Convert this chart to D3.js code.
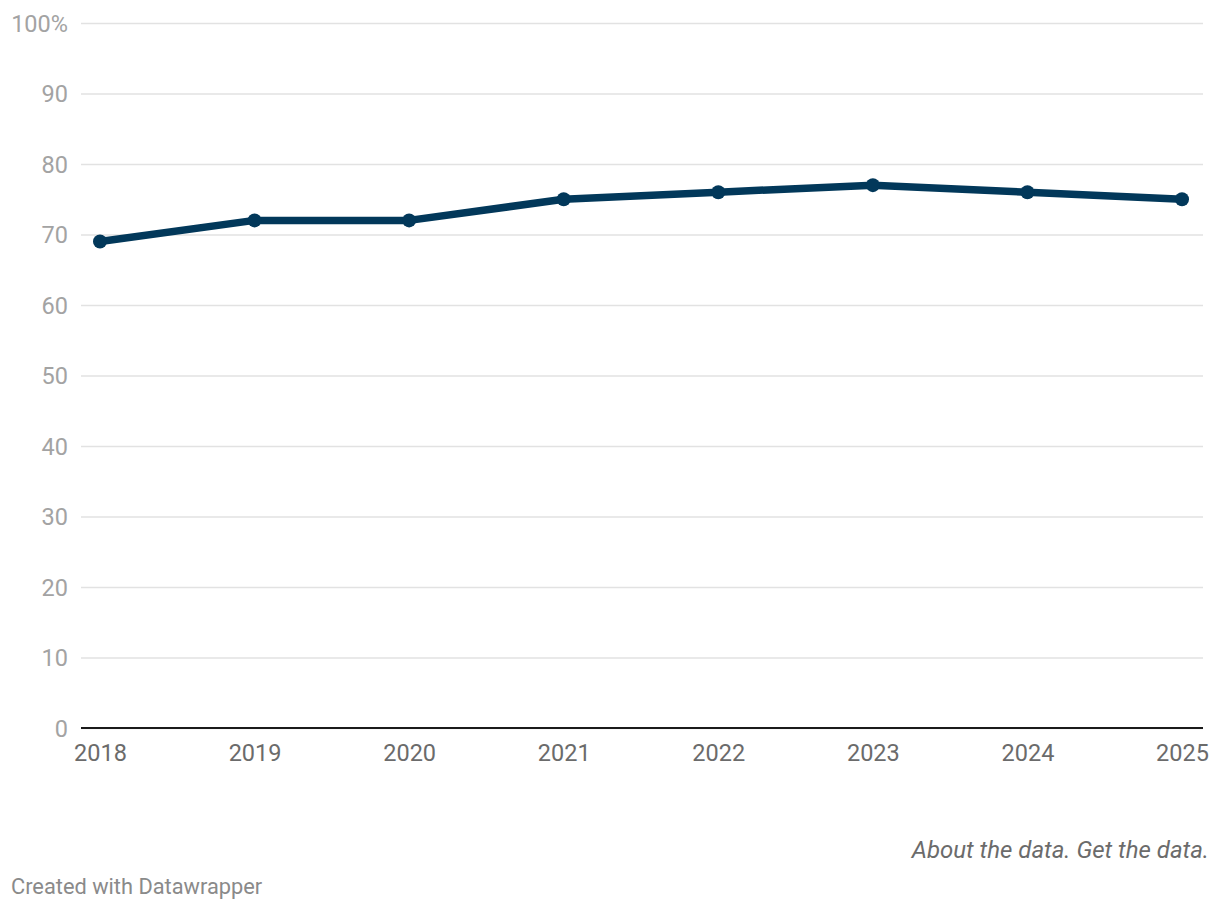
<!DOCTYPE html>
<html>
<head>
<meta charset="utf-8">
<script src="https://cdn.jsdelivr.net/npm/d3@7"></script>
<style>
  body { margin: 0; background: #fff; font-family: Roboto, sans-serif; }
</style>
</head>
<body>
<div id="chart"></div>
<script>
// data
const years = ["2018", "2019", "2020", "2021", "2022", "2023", "2024", "2025"];
const values = [69, 72, 72, 75, 76, 77, 76, 75];
const yTicks = [0, 10, 20, 30, 40, 50, 60, 70, 80, 90, 100];

const width = 1220, height = 910;

const svg = d3.select("#chart").append("svg")
    .attr("width", width)
    .attr("height", height);

// scales
const x = d3.scalePoint()
    .domain(years)
    .range([100, 1182]);

const y = d3.scaleLinear()
    .domain([0, 100])
    .range([728, 23]);

// gridlines + y labels
const yAxis = svg.append("g")
    .attr("transform", "translate(81,0)")
    .call(d3.axisLeft(y)
        .tickValues(yTicks)
        .tickSize(-(1203 - 81))
        .tickPadding(13)
        .tickFormat(d => d === 100 ? "100%" : d));

yAxis.select(".domain").remove();
yAxis.selectAll(".tick line").attr("stroke", "#e2e2e2").attr("stroke-width", 1.5);
yAxis.selectAll(".tick text")
    .attr("fill", "#a3a3a3")
    .style("font-family", "Roboto")
    .style("font-size", "23.5px")
    .attr("dy", "0.34em");

// baseline
svg.append("line")
    .attr("x1", 81).attr("x2", 1203)
    .attr("y1", y(0)).attr("y2", y(0))
    .attr("stroke", "#1a1a1a")
    .attr("stroke-width", 2);

// x labels
const xAxis = svg.append("g")
    .attr("transform", `translate(0,${y(0)})`)
    .call(d3.axisBottom(x).tickSize(0).tickPadding(16));
xAxis.select(".domain").remove();
xAxis.selectAll(".tick text")
    .attr("fill", "#6b6b6b")
    .style("font-family", "Roboto")
    .style("font-size", "23.5px")
    .attr("dy", "0.71em");

// line
const line = d3.line()
    .x((d, i) => x(years[i]))
    .y(d => y(d));

svg.append("path")
    .datum(values)
    .attr("fill", "none")
    .attr("stroke", "#02385a")
    .attr("stroke-width", 7.5)
    .attr("stroke-linejoin", "round")
    .attr("d", line);

svg.selectAll("circle.dot")
    .data(values)
    .join("circle")
    .attr("class", "dot")
    .attr("cx", (d, i) => x(years[i]))
    .attr("cy", d => y(d))
    .attr("r", 7)
    .attr("fill", "#02385a");

// footer
svg.append("text")
    .attr("x", 1209).attr("y", 858)
    .attr("text-anchor", "end")
    .attr("fill", "#6b6b6b")
    .style("font-family", "Roboto")
    .style("font-style", "italic")
    .style("font-size", "24px")
    .text("About the data. Get the data.");

svg.append("text")
    .attr("x", 11).attr("y", 894)
    .attr("fill", "#8a8a8a")
    .style("font-family", "Roboto")
    .style("font-size", "21.8px")
    .text("Created with Datawrapper");
</script>
</body>
</html>
